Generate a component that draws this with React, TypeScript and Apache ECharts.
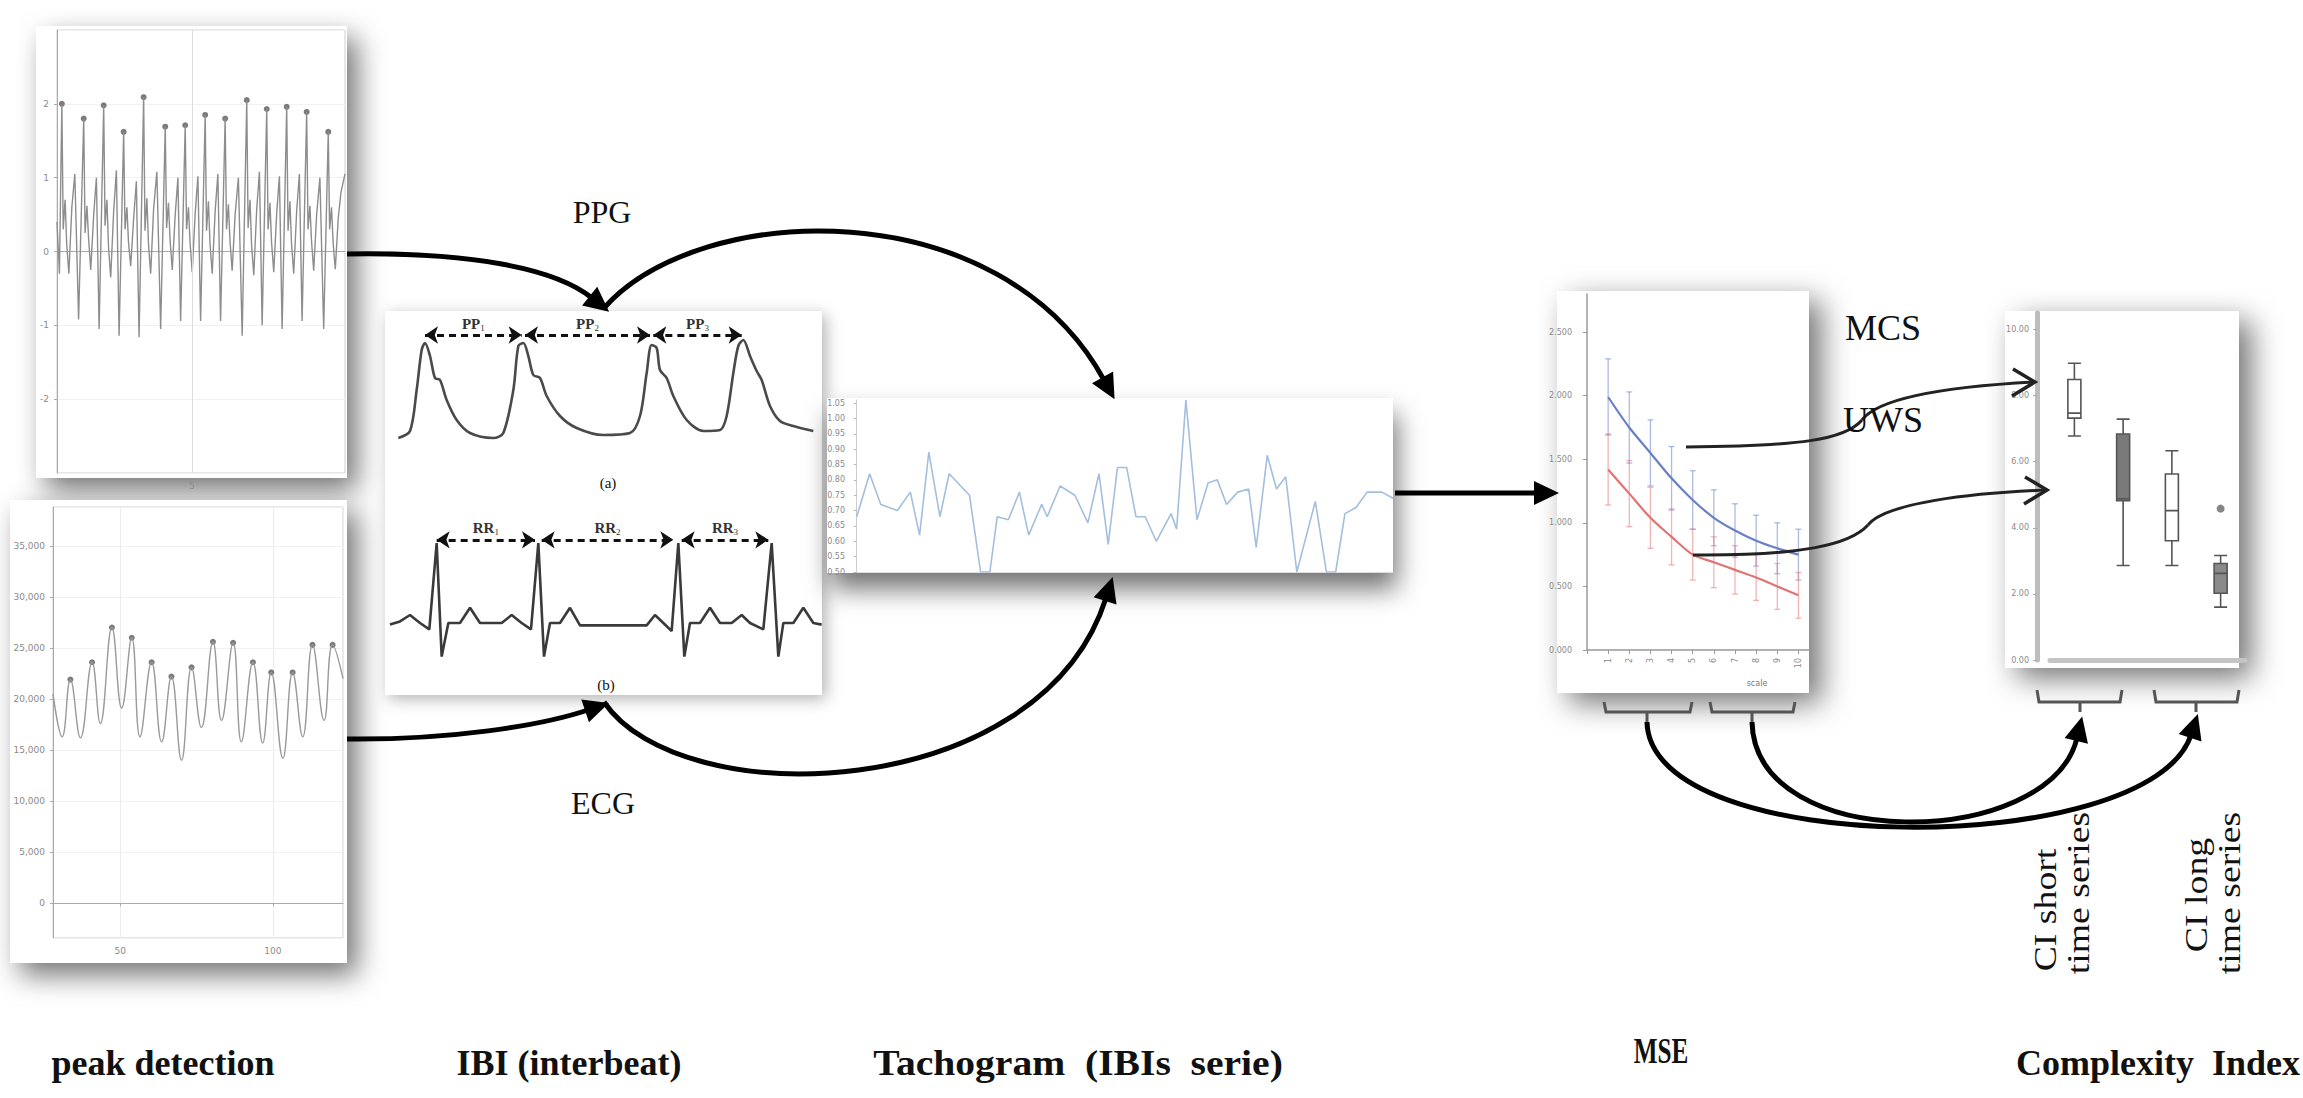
import React, { useEffect, useRef } from "react";
import * as echarts from "echarts";

// ---------------- DATA ----------------
// Panel 1: PPG peak detection trace [time s, amplitude]
const ppgTrace: number[][] = [
  [0.0, 0.4], [0.09, -0.3],
  [0.18, 2.0], [0.23, 0.3], [0.3, 0.7], [0.36, 0.1], [0.44, -0.3], [0.55, 0.6], [0.66, 1.05], [0.8, -0.92],
  [0.99, 1.8], [1.04, 0.25], [1.11, 0.62], [1.17, 0.18], [1.25, -0.25], [1.36, 0.5], [1.46, 1.0], [1.56, -1.05],
  [1.73, 1.98], [1.78, 0.35], [1.85, 0.7], [1.91, 0.05], [1.99, -0.35], [2.1, 0.55], [2.2, 1.1], [2.3, -1.14],
  [2.47, 1.62], [2.52, 0.3], [2.59, 0.6], [2.65, 0.12], [2.73, -0.2], [2.84, 0.45], [2.94, 0.95], [3.04, -1.16],
  [3.21, 2.09], [3.26, 0.28], [3.33, 0.72], [3.39, 0.1], [3.47, -0.3], [3.58, 0.58], [3.7, 1.08], [3.84, -1.05],
  [4.01, 1.69], [4.06, 0.32], [4.13, 0.66], [4.19, 0.15], [4.27, -0.25], [4.38, 0.5], [4.48, 1.0], [4.58, -0.94],
  [4.75, 1.71], [4.8, 0.3], [4.87, 0.6], [4.93, 0.12], [5.01, -0.28], [5.12, 0.52], [5.22, 1.02], [5.32, -0.94],
  [5.49, 1.85], [5.54, 0.28], [5.61, 0.68], [5.67, 0.1], [5.75, -0.3], [5.86, 0.55], [5.96, 1.05], [6.06, -0.94],
  [6.23, 1.8], [6.28, 0.3], [6.35, 0.64], [6.41, 0.14], [6.49, -0.26], [6.6, 0.5], [6.72, 1.0], [6.86, -1.14],
  [7.03, 2.05], [7.08, 0.32], [7.15, 0.7], [7.21, 0.08], [7.29, -0.32], [7.4, 0.58], [7.5, 1.08], [7.6, -1.0],
  [7.77, 1.93], [7.82, 0.3], [7.89, 0.66], [7.95, 0.12], [8.03, -0.28], [8.14, 0.52], [8.24, 1.02], [8.34, -1.05],
  [8.51, 1.96], [8.56, 0.28], [8.63, 0.68], [8.69, 0.1], [8.77, -0.3], [8.88, 0.55], [8.98, 1.05], [9.08, -0.94],
  [9.25, 1.89], [9.3, 0.3], [9.37, 0.62], [9.43, 0.14], [9.51, -0.26], [9.62, 0.5], [9.74, 1.0], [9.88, -1.05],
  [10.05, 1.62], [10.1, 0.3], [10.17, 0.6], [10.23, 0.12], [10.31, -0.24], [10.42, 0.45], [10.52, 0.8], [10.67, 1.05],
];
const ppgPeakTimes = [0.18, 0.99, 1.73, 2.47, 3.21, 4.01, 4.75, 5.49, 6.23, 7.03, 7.77, 8.51, 9.25, 10.05];
const ppgPeakValues = [2.0, 1.8, 1.98, 1.62, 2.09, 1.69, 1.71, 1.85, 1.8, 2.05, 1.93, 1.96, 1.89, 1.62];

// Panel 2: lower peak detection trace
const lowTime = [28, 31, 33.7, 37, 40.8, 43.5, 47.3, 50.5, 53.8, 56.5, 60.3, 63.6, 66.8, 70.1, 73.4, 76.6, 80.4, 83.2, 87, 89.7, 93.5, 96.7, 99.5, 103.3, 106.5, 109.8, 113, 116.8, 119.6, 123];
const lowValue = [20500, 16300, 21900, 16200, 23600, 17600, 27000, 19100, 26000, 16300, 23600, 15800, 22200, 14000, 23100, 17200, 25600, 17900, 25500, 15800, 23600, 15700, 22600, 14200, 22600, 16300, 25300, 17900, 25300, 22000];
const lowPeakTime = [33.7, 40.8, 47.3, 53.8, 60.3, 66.8, 73.4, 80.4, 87, 93.5, 99.5, 106.5, 113, 119.6];
const lowPeakValue = [21900, 23600, 27000, 26000, 23600, 22200, 23100, 25600, 25500, 23600, 22600, 22600, 25300, 25300];

// Panel 3: IBI illustration waveforms
const ibiPpgWave: number[][] = [
  [8.5, 0.05], [12, 0.12], [14, 0.53], [15.5, 0.93], [16.5, 1.0], [18, 0.87], [19.5, 0.65], [21, 0.63], [23, 0.43], [26, 0.23], [30, 0.1], [37, 0.05],
  [40, 0.1], [43, 0.53], [44.5, 0.97], [46, 1.0], [47.5, 0.87], [49, 0.68], [51, 0.65], [53, 0.47], [57, 0.27], [62, 0.15], [70, 0.08], [78, 0.1],
  [81, 0.27], [83, 0.7], [84.5, 0.98], [86, 0.95], [87, 0.73], [89, 0.65], [91, 0.47], [95, 0.23], [100, 0.12], [105, 0.13],
  [107, 0.27], [109, 0.7], [110.5, 0.97], [112, 1.03], [114, 0.87], [116, 0.72], [117.5, 0.63], [120, 0.37], [123, 0.22], [127, 0.17], [133, 0.12],
];
const ibiEcgWave: number[][] = [
  [6, -0.02], [9, 0.02], [12, 0.1], [15, 0], [17.8, -0.08], [20, 1.0], [21.5, -0.42], [23.5, 0], [27, 0], [30, 0.19], [33, 0], [39.5, 0], [42.5, 0.1], [45.5, 0], [48.3, -0.08],
  [50.5, 1.0], [52.2, -0.42], [54, 0], [57, 0], [60, 0.19], [63, -0.03], [83, -0.03], [85.5, 0.1], [88, 0], [90.5, -0.1],
  [92.5, 1.0], [94.3, -0.42], [96, 0], [99, 0], [102, 0.19], [105, 0], [108.5, 0], [111.5, 0.1], [114, 0], [118, -0.08],
  [120.5, 1.0], [122.5, -0.42], [124, 0], [127, 0], [130, 0.19], [133, 0], [135.5, -0.02],
];
const ppIntervals = [[16.5, 45.5], [46.5, 84], [85, 111.5]];
const rrIntervals = [[20, 49.5], [51.5, 91], [93.5, 119.5]];
const ppNames = ["PP1", "PP2", "PP3"];
const rrNames = ["RR1", "RR2", "RR3"];
const ppArrowLevel = 1.08;
const rrArrowLevel = 1.04;

// Panel 4: tachogram
const tachoTime = [0, 3.5, 6.5, 11, 14.5, 17, 19.5, 22.5, 25, 30.5, 33.5, 36, 38, 41, 44, 46.5, 50, 51.5, 55, 59, 62.5, 65.5, 68, 70.5, 73, 75.5, 78, 81, 85, 86.5, 89, 92, 95, 97.5, 100, 103, 106, 108, 111, 113.5, 116, 119, 124, 127, 129.5, 132, 135, 138, 142, 145];
const tachoIBI = [0.68, 0.82, 0.72, 0.7, 0.76, 0.62, 0.89, 0.68, 0.82, 0.75, 0.5, 0.5, 0.68, 0.67, 0.76, 0.62, 0.72, 0.68, 0.78, 0.75, 0.66, 0.82, 0.59, 0.84, 0.84, 0.68, 0.68, 0.6, 0.69, 0.64, 1.06, 0.67, 0.79, 0.8, 0.72, 0.76, 0.77, 0.58, 0.88, 0.77, 0.81, 0.5, 0.73, 0.5, 0.5, 0.69, 0.71, 0.76, 0.76, 0.74];

// Panel 5: MSE
const mseScales = [1, 2, 3, 4, 5, 6, 7, 8, 9, 10];
const mseMCS = [1.99, 1.75, 1.55, 1.35, 1.18, 1.04, 0.94, 0.86, 0.8, 0.75];
const mseMCSErr = [0.3, 0.28, 0.26, 0.25, 0.23, 0.22, 0.21, 0.2, 0.2, 0.2];
const mseUWS = [1.42, 1.23, 1.04, 0.89, 0.75, 0.69, 0.63, 0.57, 0.5, 0.43];
const mseUWSErr = [0.28, 0.26, 0.24, 0.22, 0.2, 0.2, 0.19, 0.18, 0.18, 0.18];

// Panel 6: complexity index boxplots [min, Q1, median, Q3, max]
const ciGroups = ["MCS short", "UWS short", "MCS long", "UWS long"];
const ciBoxes = [
  [6.78, 7.32, 7.47, 8.49, 8.98],
  [2.86, 4.82, 4.88, 6.84, 7.29],
  [2.86, 3.61, 4.52, 5.63, 6.33],
  [1.6, 2.02, 2.62, 2.92, 3.16],
];
const ciFill = ["#ffffff", "#7a7a7a", "#ffffff", "#8a8a8a"];
const ciOutliers = [["UWS long", 4.58]];

// Text
const stageLabels = ["peak detection", "IBI (interbeat)", "Tachogram  (IBIs  serie)", "MSE", "Complexity  Index"];

// ---------------- HELPERS ----------------
const tiny = { fontSize: 9, color: "#8a8a8a", fontFamily: "DejaVu Sans" };
const SERIF = "Liberation Serif";

function head(bx: number, by: number, fx: number, fy: number, len = 22, half = 12, fill = "#000") {
  const dx = bx - fx, dy = by - fy;
  const L = Math.hypot(dx, dy);
  const ux = dx / L, uy = dy / L;
  const b0x = bx - ux * 3, b0y = by - uy * 3;
  const tx = bx + ux * len, ty = by + uy * len;
  return {
    type: "polygon", z: 60,
    shape: { points: [[tx, ty], [b0x - uy * half, b0y + ux * half], [b0x + uy * half, b0y - ux * half]] },
    style: { fill },
  };
}
function curve(c: number[], w = 5, color = "#000") {
  const [x1, y1, cpx1, cpy1, cpx2, cpy2, x2, y2] = c;
  return { type: "bezierCurve", z: 55, shape: { x1, y1, cpx1, cpy1, cpx2, cpy2, x2, y2 }, style: { stroke: color, lineWidth: w, fill: "none" } };
}
function card(x: number, y: number, w: number, h: number, blur = 28, ox = 10, oy = 12, a = 0.55) {
  return { type: "rect", z: -10, shape: { x, y, width: w, height: h }, style: { fill: "#fff", shadowBlur: blur, shadowOffsetX: ox, shadowOffsetY: oy, shadowColor: `rgba(0,0,0,${a})` } };
}
function txt(text: string, x: number, y: number, size: number, weight = "normal", rotation = 0, scaleX = 1) {
  return { type: "text", z: 70, x, y, rotation, scaleX, style: { text, fontSize: size, fontWeight: weight, fontFamily: SERIF, fill: "#111", align: "center", verticalAlign: "middle" } };
}
function poly(points: number[][], w = 3, color = "#555") {
  return { type: "polyline", z: 55, shape: { points }, style: { stroke: color, lineWidth: w, fill: "none" } };
}
function errBars(means: number[], errs: number[], color: string) {
  return {
    type: "custom", xAxisIndex: 5, yAxisIndex: 5, z: 3,
    data: mseScales.map((s, i) => [s, means[i] - errs[i], means[i] + errs[i]]),
    encode: { x: 0, y: [1, 2] },
    renderItem: (params: any, api: any) => {
      const x = api.value(0);
      const lo = api.coord([x, api.value(1)]);
      const hi = api.coord([x, api.value(2)]);
      const s = { stroke: color, lineWidth: 1.3 };
      return {
        type: "group",
        children: [
          { type: "line", shape: { x1: lo[0], y1: lo[1], x2: hi[0], y2: hi[1] }, style: s },
          { type: "line", shape: { x1: lo[0] - 3, y1: lo[1], x2: lo[0] + 3, y2: lo[1] }, style: s },
          { type: "line", shape: { x1: hi[0] - 3, y1: hi[1], x2: hi[0] + 3, y2: hi[1] }, style: s },
        ],
      };
    },
  };
}
function intervalMarks(intervals: number[][], names: string[], level: number) {
  return {
    silent: true,
    symbol: ["arrow", "arrow"],
    symbolSize: 13,
    lineStyle: { color: "#111", width: 3, type: [7, 5] },
    label: {
      show: true, position: "insideMiddleTop", distance: 3,
      formatter: (p: any) => `{a|${p.name.slice(0, 2)}}{b|${p.name.slice(2)}}`,
      rich: {
        a: { fontSize: 15, fontWeight: "bold", fontFamily: SERIF, color: "#333" },
        b: { fontSize: 9, fontFamily: SERIF, color: "#333", padding: [8, 0, 0, 0] },
      },
    },
    data: intervals.map((iv, i) => [{ coord: [iv[0], level], name: names[i] }, { coord: [iv[1], level] }]),
  };
}

function buildOption() {
  const hidden = { show: false };
  const xAxis: any[] = [
    { gridIndex: 0, type: "value", min: 0, max: 10.67, interval: 5, axisLine: { lineStyle: { color: "#aaa" } }, axisTick: hidden, splitLine: hidden, axisLabel: { ...tiny, formatter: (v: number) => (v === 5 ? "5" : "") } },
    { gridIndex: 1, type: "value", min: 28, max: 123, splitNumber: 2, axisLine: { lineStyle: { color: "#aaa" } }, axisTick: { length: 3, lineStyle: { color: "#aaa" } }, splitLine: { lineStyle: { color: "#ececec" } }, axisLabel: { ...tiny, showMinLabel: false, showMaxLabel: false } },
    { gridIndex: 2, type: "value", min: 0, max: 138, show: false },
    { gridIndex: 3, type: "value", min: 0, max: 138, show: false },
    { gridIndex: 4, type: "value", min: -1, max: 145, axisLine: { lineStyle: { color: "#ddd" } }, axisTick: hidden, axisLabel: hidden, splitLine: hidden },
    { gridIndex: 5, type: "value", min: 0, max: 10.5, interval: 1, axisLine: { lineStyle: { color: "#999", width: 1.5 } }, axisTick: { length: 4, lineStyle: { color: "#999" } }, splitLine: hidden, axisLabel: { ...tiny, fontSize: 8, rotate: 90, formatter: (v: number) => (v >= 1 && v <= 10 ? String(v) : "") } },
    { gridIndex: 6, type: "category", data: ciGroups, axisLine: { lineStyle: { color: "#c4c4c4", width: 5 } }, axisTick: hidden, axisLabel: hidden, splitLine: hidden },
  ];
  const yAxis: any[] = [
    { gridIndex: 0, type: "value", min: -3, max: 3, interval: 1, axisLine: { show: true, lineStyle: { color: "#aaa" } }, axisTick: { show: true, length: 3, lineStyle: { color: "#aaa" } }, splitLine: { lineStyle: { color: "#f1f1f1" } }, axisLabel: { ...tiny, showMinLabel: false, showMaxLabel: false } },
    { gridIndex: 1, type: "value", min: -3400, max: 38800, splitNumber: 8, axisLine: { show: true, lineStyle: { color: "#aaa" } }, axisTick: { show: true, length: 3, lineStyle: { color: "#aaa" } }, splitLine: { lineStyle: { color: "#f1f1f1" } }, axisLabel: { ...tiny, showMinLabel: false, showMaxLabel: false } },
    { gridIndex: 2, type: "value", min: 0, max: 1.1, show: false },
    { gridIndex: 3, type: "value", min: -0.5, max: 1.1, show: false },
    { gridIndex: 4, type: "value", min: 0.5, max: 1.06, interval: 0.05, axisLine: { show: true, lineStyle: { color: "#ccc" } }, axisTick: { show: true, length: 3, lineStyle: { color: "#bbb" } }, splitLine: hidden, axisLabel: { ...tiny, fontSize: 8, showMaxLabel: false, formatter: (v: number) => v.toFixed(2) } },
    { gridIndex: 5, type: "value", min: 0, max: 2.8, interval: 0.5, offset: 7, axisLine: { show: true, lineStyle: { color: "#999", width: 1.5 } }, axisTick: { show: true, length: 4, lineStyle: { color: "#999" } }, splitLine: hidden, axisLabel: { ...tiny, fontSize: 8, showMaxLabel: false, formatter: (v: number) => v.toFixed(3) } },
    { gridIndex: 6, type: "value", min: 0, max: 10.5, interval: 2, offset: 13, axisLine: { show: true, lineStyle: { color: "#bdbdbd", width: 5 } }, axisTick: { show: true, length: 4, lineStyle: { color: "#aaa" } }, splitLine: hidden, axisLabel: { ...tiny, fontSize: 8, showMaxLabel: false, formatter: (v: number) => v.toFixed(2) } },
  ];
  const grid = [
    { left: 57, top: 30, width: 288, height: 443, show: true, borderColor: "#cfcfcf", borderWidth: 1 },
    { left: 53, top: 507, width: 290, height: 431, show: true, borderColor: "#cfcfcf", borderWidth: 1 },
    { left: 370, top: 333, width: 460, height: 110 },
    { left: 370, top: 535, width: 460, height: 128 },
    { left: 853, top: 400, width: 540, height: 172 },
    { left: 1587, top: 294, width: 222, height: 356 },
    { left: 2050, top: 313, width: 195, height: 347 },
  ];

  const series: any[] = [
    {
      type: "line", xAxisIndex: 0, yAxisIndex: 0, data: ppgTrace, showSymbol: false, symbol: "none",
      lineStyle: { color: "#8d8d8d", width: 1.4 },
      markLine: { silent: true, symbol: "none", label: { show: false }, lineStyle: { color: "#dcdcdc", type: "solid", width: 1 }, data: [{ xAxis: 5 }] },
    },
    { type: "scatter", xAxisIndex: 0, yAxisIndex: 0, data: ppgPeakTimes.map((t, i) => [t, ppgPeakValues[i]]), symbol: "circle", symbolSize: 6, itemStyle: { color: "#5a5a5a" } },
    { type: "line", xAxisIndex: 1, yAxisIndex: 1, data: lowTime.map((t, i) => [t, lowValue[i]]), smooth: 0.45, showSymbol: false, symbol: "none", lineStyle: { color: "#9a9a9a", width: 1.4 } },
    { type: "scatter", xAxisIndex: 1, yAxisIndex: 1, data: lowPeakTime.map((t, i) => [t, lowPeakValue[i]]), symbol: "circle", symbolSize: 6, itemStyle: { color: "#5a5a5a" } },
    {
      type: "line", xAxisIndex: 2, yAxisIndex: 2, data: ibiPpgWave, smooth: 0.3, showSymbol: false, symbol: "none", clip: false,
      lineStyle: { color: "#4a4a4a", width: 2.6 },
      markLine: intervalMarks(ppIntervals, ppNames, ppArrowLevel),
    },
    {
      type: "line", xAxisIndex: 3, yAxisIndex: 3, data: ibiEcgWave, showSymbol: false, symbol: "none", clip: false,
      lineStyle: { color: "#3a3a3a", width: 2.6 },
      markLine: intervalMarks(rrIntervals, rrNames, rrArrowLevel),
    },
    { type: "line", xAxisIndex: 4, yAxisIndex: 4, data: tachoTime.map((t, i) => [t, tachoIBI[i]]), showSymbol: false, symbol: "none", lineStyle: { color: "#a3bfdd", width: 1.6 } },
    errBars(mseMCS, mseMCSErr, "rgba(110,130,200,0.55)"),
    errBars(mseUWS, mseUWSErr, "rgba(230,120,120,0.55)"),
    { type: "line", xAxisIndex: 5, yAxisIndex: 5, data: mseScales.map((s, i) => [s, mseMCS[i]]), smooth: 0.3, showSymbol: false, symbol: "none", z: 4, lineStyle: { color: "#6a80c4", width: 2.2 } },
    { type: "line", xAxisIndex: 5, yAxisIndex: 5, data: mseScales.map((s, i) => [s, mseUWS[i]]), smooth: 0.3, showSymbol: false, symbol: "none", z: 4, lineStyle: { color: "#e07474", width: 2.2 } },
    {
      type: "boxplot", xAxisIndex: 6, yAxisIndex: 6, boxWidth: [11, 13],
      data: ciBoxes.map((b, i) => ({ value: b, itemStyle: { color: ciFill[i], borderColor: "#555", borderWidth: 1.6 } })),
    },
    { type: "scatter", xAxisIndex: 6, yAxisIndex: 6, data: ciOutliers, symbol: "circle", symbolSize: 8, itemStyle: { color: "#666" } },
  ];

  // connectors (bezier control points in page pixels)
  const A1 = [347, 254, 470, 252, 555, 268, 592, 298];
  const A2 = [604, 308, 700, 200, 1000, 190, 1104, 380];
  const B1 = [347, 739, 450, 740, 540, 726, 588, 710];
  const B2 = [604, 702, 680, 815, 1040, 805, 1106, 598];
  const D = [1647, 722, 1650, 860, 2150, 860, 2191, 735];
  const E = [1752, 722, 1755, 855, 2050, 850, 2077, 738];
  const M1 = [1686, 447, 1800, 446, 1845, 440, 1862, 420];
  const M2 = [1862, 420, 1880, 396, 1960, 386, 2035, 382];
  const U1 = [1693, 555, 1800, 556, 1850, 545, 1868, 525];
  const U2 = [1868, 525, 1885, 503, 1970, 493, 2047, 490];

  const elements: any[] = [
    card(36, 26, 311, 452),
    card(10, 500, 337, 463),
    card(385, 311, 437, 384, 16, 4, 4, 0.3),
    card(827, 398, 566, 175, 26, 4, 16, 0.55),
    card(1557, 291, 252, 402, 30, 12, 10, 0.55),
    card(2005, 311, 234, 357, 30, 12, 10, 0.55),
    curve(A1), head(A1[6], A1[7], A1[4], A1[5]),
    curve(A2), head(A2[6], A2[7], A2[4], A2[5]),
    curve(B1), head(B1[6], B1[7], B1[4], B1[5]),
    curve(B2), head(B2[6], B2[7], B2[4], B2[5]),
    curve(D), head(D[6], D[7], D[4], D[5]),
    curve(E), head(E[6], E[7], E[4], E[5]),
    { type: "line", z: 55, shape: { x1: 1395, y1: 493, x2: 1537, y2: 493 }, style: { stroke: "#000", lineWidth: 5 } },
    head(1537, 493, 1500, 493),
    curve(M1, 3, "#222"), curve(M2, 3, "#222"),
    curve(U1, 3, "#222"), curve(U2, 3, "#222"),
    poly([[2013, 369], [2035, 382], [2012, 396]], 3.5, "#222"),
    poly([[2025, 477], [2047, 490], [2024, 504]], 3.5, "#222"),
    // brackets
    poly([[1604, 702], [1606, 712], [1690, 712], [1692, 702]]), poly([[1647, 712], [1647, 722]]),
    poly([[1710, 702], [1712, 712], [1793, 712], [1795, 702]]), poly([[1752, 712], [1752, 722]]),
    poly([[2037, 690], [2039, 702], [2120, 702], [2122, 690]]), poly([[2080, 702], [2080, 712]]),
    poly([[2154, 690], [2156, 702], [2237, 702], [2239, 690]]), poly([[2196, 702], [2196, 712]]),
    // labels
    txt("PPG", 602, 212, 32),
    txt("ECG", 603, 803, 32),
    txt("MCS", 1883, 328, 36),
    txt("UWS", 1883, 420, 36),
    txt("(a)", 608, 483, 15),
    txt("(b)", 606, 685, 15),
    { type: "text", z: 70, x: 1757, y: 683, style: { text: "scale", fontSize: 8, fill: "#777", fontFamily: "DejaVu Sans", align: "center", verticalAlign: "middle" } },
    txt(stageLabels[0], 163, 1063, 36, "bold"),
    txt(stageLabels[1], 569, 1063, 36, "bold"),
    txt(stageLabels[2], 1078, 1063, 36, "bold", 0, 1.1),
    txt(stageLabels[3], 1661, 1051, 36, "bold", 0, 0.7),
    txt(stageLabels[4], 2158, 1063, 36, "bold"),
    txt("CI short", 2045, 910, 32, "normal", Math.PI / 2, 1.18),
    txt("time series", 2078, 893, 32, "normal", Math.PI / 2, 1.18),
    txt("CI long", 2196, 895, 32, "normal", Math.PI / 2, 1.18),
    txt("time series", 2229, 893, 32, "normal", Math.PI / 2, 1.18),
  ];

  return {
    animation: false,
    backgroundColor: "#ffffff",
    grid, xAxis, yAxis, series,
    graphic: { elements },
  };
}

export default function App() {
  const ref = useRef<HTMLDivElement>(null);
  useEffect(() => {
    const chart = echarts.init(ref.current!, null, { renderer: "svg", width: 2303, height: 1098 });
    chart.setOption(buildOption() as any);
    return () => chart.dispose();
  }, []);
  return <div ref={ref} style={{ position: "absolute", left: 0, top: 0, width: 2303, height: 1098, background: "#fff" }} />;
}
